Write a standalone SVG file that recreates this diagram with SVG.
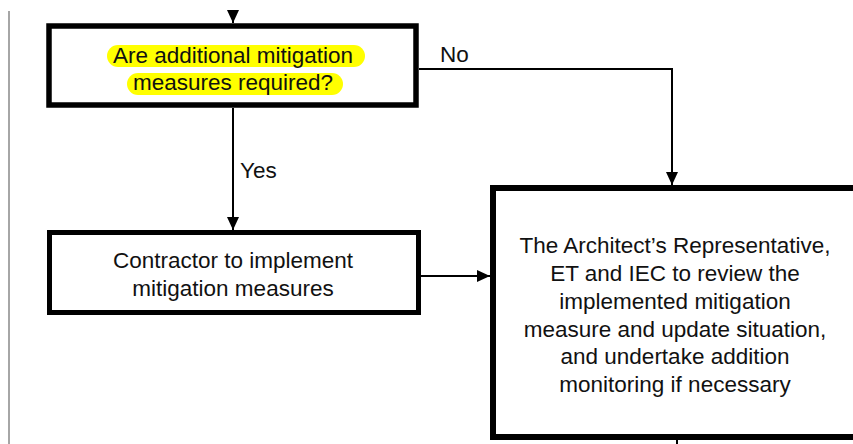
<svg xmlns="http://www.w3.org/2000/svg" width="853" height="444" viewBox="0 0 853 444">
<style>
.box{fill:#fff;stroke:#000;}
.t{font-family:"Liberation Sans",Arial,sans-serif;font-size:22.5px;fill:#111;text-anchor:middle;}
.lbl{font-family:"Liberation Sans",Arial,sans-serif;font-size:22.5px;fill:#111;}
.c{fill:none;stroke:#000;stroke-width:2;}
.hl{fill:#ffff00;}
</style>
<defs>
<marker id="ah" markerUnits="userSpaceOnUse" markerWidth="14" markerHeight="14" viewBox="0 0 14 14" refX="13" refY="7" orient="auto">
<path d="M0,1 L13,7 L0,13 Z" fill="#000"/>
</marker>
</defs>
<rect width="853" height="444" fill="#fff"/>
<line x1="9" y1="11" x2="9" y2="444" stroke="#888" stroke-width="1.5"/>
<g id="connectors">
<line class="c" x1="233" y1="10" x2="233" y2="23" marker-end="url(#ah)"/>
<line class="c" x1="233" y1="108" x2="233" y2="230" marker-end="url(#ah)"/>
<polyline class="c" points="419,69 672,69 672,185" marker-end="url(#ah)"/>
<line class="c" x1="421" y1="276" x2="490" y2="276" marker-end="url(#ah)"/>
<line class="c" x1="677" y1="440" x2="677" y2="444"/>
<text class="lbl" x="440" y="62">No</text>
<text class="lbl" x="240" y="178">Yes</text>
</g>
<g id="decision">
<rect class="box" x="49" y="26" width="367" height="79" stroke-width="5.5"/>
<rect class="hl" x="107" y="45" width="258" height="22" rx="11"/>
<rect class="hl" x="127" y="73" width="216" height="22" rx="11"/>
<text class="t" x="233" y="63">Are additional mitigation</text>
<text class="t" x="233" y="90">measures required?</text>
</g>
<g id="implement">
<rect class="box" x="49.5" y="232.5" width="369" height="80" stroke-width="5"/>
<text class="t" x="233" y="268">Contractor to implement</text>
<text class="t" x="233" y="296">mitigation measures</text>
</g>
<g id="review">
<rect class="box" x="493" y="188" width="400" height="249" stroke-width="6"/>
<text class="t" x="675" y="253">The Architect’s Representative,</text>
<text class="t" x="675" y="281">ET and IEC to review the</text>
<text class="t" x="675" y="309">implemented mitigation</text>
<text class="t" x="675" y="337">measure and update situation,</text>
<text class="t" x="675" y="364">and undertake addition</text>
<text class="t" x="675" y="392">monitoring if necessary</text>
</g>
</svg>
